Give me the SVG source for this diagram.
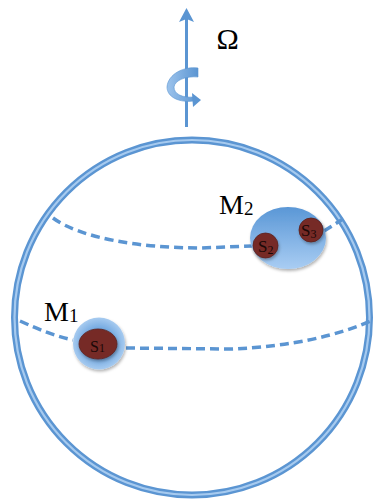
<svg xmlns="http://www.w3.org/2000/svg" width="375" height="504" viewBox="0 0 375 504">
<style>
.lbl{font-family:"Liberation Serif","DejaVu Serif",serif;fill:#000}
.sl{font-family:"Liberation Serif","DejaVu Serif",serif;fill:#1a0807}
.dash{fill:none;stroke:#5b95d2;stroke-width:3.5;stroke-dasharray:9 5}
.s{fill:#762c28;stroke:#5a201d;stroke-width:0.8}
</style>
<defs>
<linearGradient id="gM2" x1="0" y1="0" x2="0" y2="1">
<stop offset="0" stop-color="#5a97d6"/>
<stop offset="1" stop-color="#a9cdf3"/>
</linearGradient>
<radialGradient id="gM1" cx="0.5" cy="0.5" r="0.5">
<stop offset="0.5" stop-color="#6aa3de"/>
<stop offset="1" stop-color="#a7cbf0"/>
</radialGradient>
<linearGradient id="gCurl" x1="0" y1="0" x2="1" y2="0">
<stop offset="0" stop-color="#9cc3ec"/>
<stop offset="1" stop-color="#5b95d2"/>
</linearGradient>
<filter id="sh" x="-30%" y="-30%" width="160%" height="160%">
<feDropShadow dx="1" dy="2" stdDeviation="1.5" flood-color="#000" flood-opacity="0.3"/>
</filter>
</defs>
<g id="sphere">
<circle cx="192" cy="317.5" r="177.5" fill="none" stroke="#5b95d2" stroke-width="7"/>
<circle cx="192" cy="317.5" r="177.5" fill="none" stroke="#a6caef" stroke-width="2.2"/>
</g>
<g id="axis">
<line x1="186.5" y1="18" x2="186.5" y2="127" stroke="#5b95d2" stroke-width="3"/>
<polygon points="186.5,8 179,22 186.5,19 194,22" fill="#5b95d2"/>
<path d="M198,68 C184,66 168,74 167,87 C167,97 179,103 194,101 L194,97 C182,98 174,94 174,87 C175,80 186,76 198,77 Z" fill="url(#gCurl)" stroke="#5b95d2" stroke-width="0.6"/>
<polygon points="192,93 201,100 193,107" fill="#5b95d2"/>
<text class="lbl" x="216.5" y="49" font-size="30">Ω</text>
</g>
<g id="connectors">
<path class="dash" d="M53,218 C80,238 140,248 200,248 L252,246"/>
<path class="dash" d="M324,231 L343,219"/>
<path class="dash" d="M20,321 C40,330 55,336 73,340"/>
<path class="dash" d="M126,348 L230,349 C290,347 340,335 373,320"/>
</g>
<g id="M2">
<ellipse cx="288" cy="238" rx="38" ry="31" fill="url(#gM2)" filter="url(#sh)"/>
<text class="lbl" x="219" y="214" font-size="28">M<tspan font-size="19" dy="1">2</tspan></text>
</g>
<g id="S2">
<circle class="s" cx="265.5" cy="245.5" r="12.5" filter="url(#sh)"/>
<text class="sl" x="258" y="251.5" font-size="17">S<tspan font-size="12" dy="2">2</tspan></text>
</g>
<g id="S3">
<circle class="s" cx="311" cy="230" r="12" filter="url(#sh)"/>
<text class="sl" x="301" y="236" font-size="17">S<tspan font-size="12" dy="2">3</tspan></text>
</g>
<g id="M1">
<circle cx="99" cy="343.5" r="26" fill="url(#gM1)" filter="url(#sh)"/>
<text class="lbl" x="44" y="321" font-size="28">M<tspan font-size="19" dy="1">1</tspan></text>
</g>
<g id="S1">
<ellipse class="s" cx="98" cy="344" rx="19" ry="15" filter="url(#sh)"/>
<text class="sl" x="90" y="352" font-size="16">S<tspan font-size="12" dy="0">1</tspan></text>
</g>
</svg>
